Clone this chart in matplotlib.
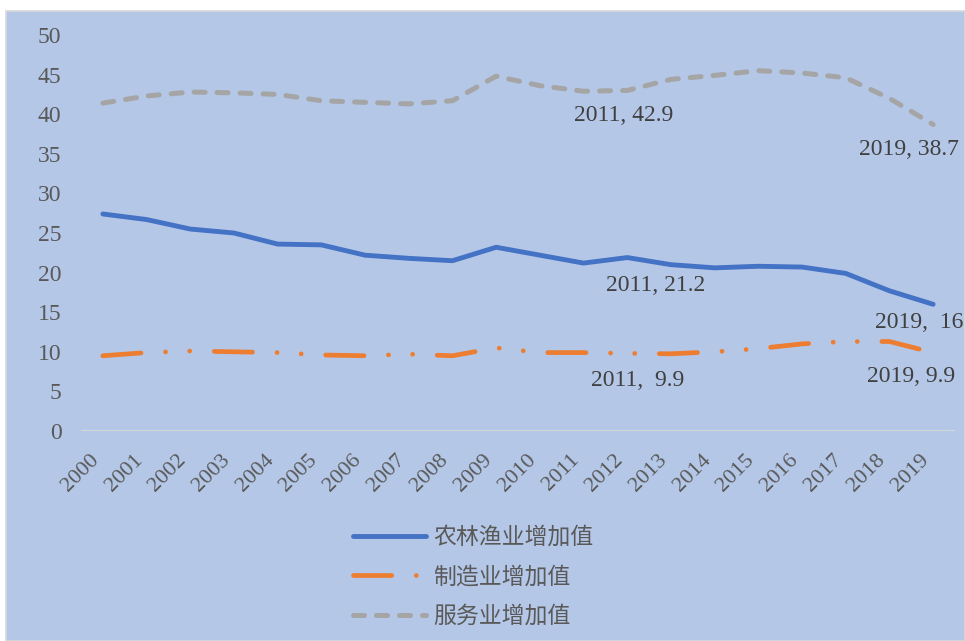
import matplotlib
matplotlib.use("Agg")
import matplotlib.pyplot as plt
from matplotlib.patches import Rectangle

years = [str(y) for y in range(2000, 2020)]
agri = [27.4, 26.7, 25.5, 25.0, 23.6, 23.5, 22.2, 21.8, 21.5, 23.2,
        22.2, 21.2, 21.9, 21.0, 20.6, 20.8, 20.7, 19.9, 17.7, 16.0]
manu = [9.5, 9.9, 10.1, 10.0, 9.9, 9.6, 9.5, 9.7, 9.5, 10.5,
        9.9, 9.9, 9.8, 9.75, 10.0, 10.4, 11.0, 11.3, 11.3, 9.9]
serv = [41.4, 42.3, 42.8, 42.7, 42.5, 41.7, 41.5, 41.3, 41.7, 44.8,
        43.6, 42.9, 43.0, 44.4, 44.9, 45.5, 45.2, 44.6, 42.0, 38.7]
names = ["农林渔业增加值", "制造业增加值", "服务业增加值"]
yticks = [0, 5, 10, 15, 20, 25, 30, 35, 40, 45, 50]
annots = [("2011, 42.9", 11, serv[11], 40, -24),
          ("2019, 38.7", 19, serv[19], -24, -25),
          ("2011, 21.2", 11, agri[11], 72, -22),
          ("2019,  16", 19, agri[19], -14, -18),
          ("2011,  9.9", 11, manu[11], 54, -28),
          ("2019, 9.9", 19, manu[19], -22, -24)]

W, H = 965, 641
fig = plt.figure(figsize=(W / 100, H / 100), dpi=100)
fig.patch.set_facecolor("white")
fig.patches.append(Rectangle((6 / W, 0), 1 - 6 / W, (H - 11) / H, transform=fig.transFigure,
                             facecolor="#B4C7E7", edgecolor="#D9D9D9", linewidth=1.2, zorder=-10))

ax = fig.add_axes([81 / W, (H - 431) / H, (955 - 81) / W, (431 - 35) / H])
ax.set_zorder(2)
ax.set_facecolor("none")
x = list(range(len(years)))
serif = "Liberation Serif"
cjk = ["Noto Sans CJK SC", "DejaVu Sans"]

l1, = ax.plot(x, agri, color="#4472C4", lw=3.5, solid_capstyle="round", solid_joinstyle="round")
l2, = ax.plot(x, manu, color="#ED7D31", lw=3.4, dash_capstyle="round", dash_joinstyle="round",
              linestyle=(0, (8.1, 5.2, 0.01, 5.1, 0.01, 5.2)))
l3, = ax.plot(x, serv, color="#A5A5A5", lw=3.6, dash_capstyle="round", dash_joinstyle="round",
              linestyle=(0, (2.2, 2.4)))

ax.set_xlim(-0.5, len(years) - 0.5)
ax.set_ylim(0, 50)
ax.set_yticks(yticks)
ax.set_yticklabels([str(v) for v in yticks], fontfamily=serif, fontsize=17, color="#595959")
ax.set_xticks(x)
ax.set_xticklabels(years, fontfamily=serif, fontsize=16, color="#595959",
                   rotation=45, ha="right", va="top")
ax.tick_params(axis="y", length=0, pad=14)
ax.tick_params(axis="x", length=0, pad=14)
for s in ax.spines.values():
    s.set_visible(False)
ax.axhline(0, color="#D9D9D9", lw=2, zorder=1)

for txt, xi, yv, dx, dy in annots:
    ax.annotate(txt, (xi, yv), xytext=(dx, dy), textcoords="offset pixels",
                ha="center", va="center", fontfamily=serif, fontsize=17, color="#404040")

leg = fig.legend([l1, l2, l3], names, loc="upper left", bbox_to_anchor=(332 / W, 1 - 505 / H),
                 frameon=False, prop={"family": cjk, "size": 16.5}, labelcolor="#595959",
                 handlelength=3.2, handletextpad=0.3, labelspacing=0.72)

fig.savefig("out.png", dpi=100)
